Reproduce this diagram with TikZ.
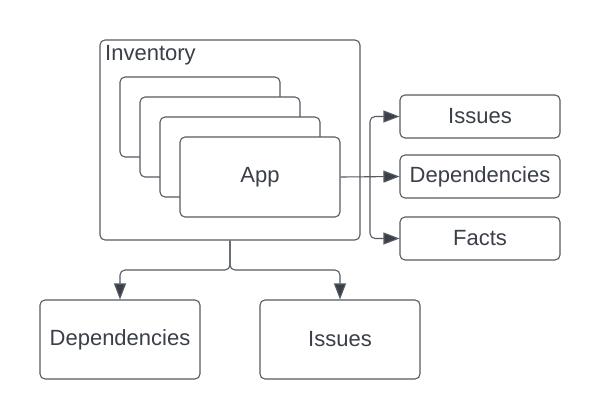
\documentclass[tikz,border=0pt]{standalone}
\usepackage{fontspec}
\setmainfont{Liberation Sans}
\usetikzlibrary{arrows.meta}
\definecolor{lineGray}{HTML}{555B63}
\definecolor{textGray}{HTML}{3A3F48}

\begin{document}
\begin{tikzpicture}[
                x=1pt, y=-1pt,
                box/.style={draw=lineGray, line width=1.1pt, rounded corners=5pt, fill=white,
                    text=textGray, font=\fontsize{22}{26}\selectfont},
                arr/.style={draw=lineGray, line width=1.1pt,
                    -{Triangle[length=16pt, width=12pt, fill=textGray]}} ]

            \useasboundingbox (0,0) rectangle (600,420);

            % inventory with its stack of apps
            \node[box, minimum width=260pt, minimum height=200pt] (inv) at (230,140) {};
            \node[anchor=west, inner sep=0pt, text=textGray, font=\fontsize{22}{26}\selectfont] (invlabel) at (105,55) {Inventory};
            \node[box, minimum width=160pt, minimum height=80pt] (app1) at (200,117) {};
            \node[box, minimum width=160pt, minimum height=80pt] (app2) at (220,137) {};
            \node[box, minimum width=160pt, minimum height=80pt] (app3) at (240,157) {};
            \node[box, minimum width=160pt, minimum height=80pt] (app) at (260,177) {App};

            % outputs on the right
            \node[box, minimum width=160pt, minimum height=43pt] (issR) at (480,116.5) {Issues};
            \node[box, minimum width=160pt, minimum height=43pt] (depR) at (480,176.5) {Dependencies};
            \node[box, minimum width=160pt, minimum height=43pt] (facts) at (480,238.5) {Facts};

            % outputs below
            \node[box, minimum width=160pt, minimum height=79pt] (depB) at (120,339.5) {Dependencies};
            \node[box, minimum width=160pt, minimum height=79pt] (issB) at (340,339.5) {Issues};

            \coordinate (jr) at (370,176.5);
            \coordinate (jb) at (230,270);

            \draw[arr] (app.east) -- (depR.west);
            \draw[arr, rounded corners=5pt] (jr) |- (issR.west);
            \draw[arr, rounded corners=5pt] (jr) |- (facts.west);

            \draw[arr, rounded corners=5pt] (inv.south) -- (jb) -| (depB.north);
            \draw[arr, rounded corners=5pt] (inv.south) -- (jb) -| (issB.north);

        \end{tikzpicture}
\end{document}
